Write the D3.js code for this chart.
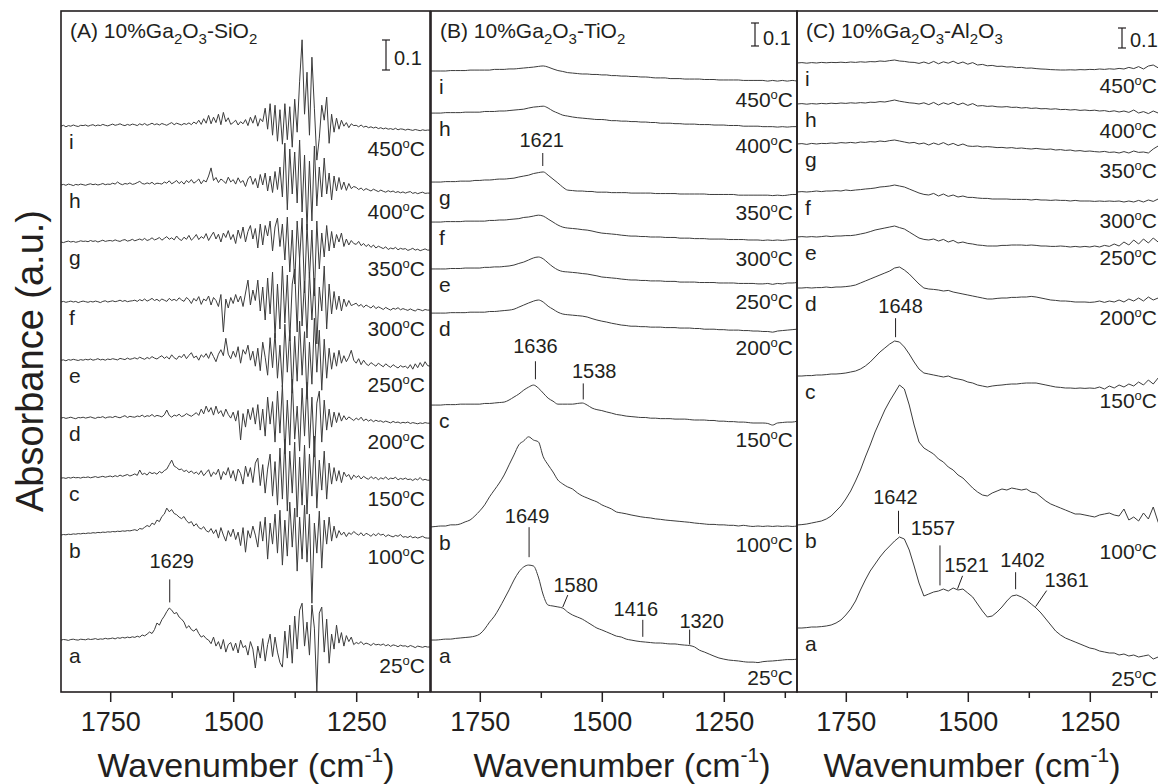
<!DOCTYPE html>
<html>
<head>
<meta charset="utf-8">
<script src="https://cdnjs.cloudflare.com/ajax/libs/d3/7.8.5/d3.min.js"></script>
<style>
  body { margin: 0; background: #fff; }
  text { font-family: "Liberation Sans", Arial, Helvetica, sans-serif; fill: #231f20; }
</style>
</head>
<body>
<div id="chart"></div>
<script>
// wavenumber range of every panel (cm-1), spectra sampled evenly from 1850 down to 1100
var wnMax = 1850, wnMin = 1100;
var letters = ["a", "b", "c", "d", "e", "f", "g", "h", "i"];
var temps = ["25", "100", "150", "200", "250", "300", "350", "400", "450"];
var xTicksMajor = [1750, 1500, 1250];
var xTicksMinor = [1625, 1375, 1125];

// values in mAU (0.1 a.u. = 100), each spectrum relative to its own offset
// (A) 10%Ga2O3-SiO2, 5 cm-1 steps
var offsetsA = [0, 350, 540, 740, 933, 1127, 1327, 1517, 1713];
var specA_a = [0,2,1,-1,2,3,1,0,3,2, 1,4,2,3,5,2,4,3,6,4, 5,7,4,8,6,9,7,10,8,11, 9,13,10,17,14,20,27,22,35,57,
  50,68,80,95,107,100,88,92,77,70, 60,40,48,35,30,38,22,10,15,5, 0,-12,10,-20,-5,-30,2,-40,-15,-8,
  -35,-10,-43,0,-25,-18,-50,-5,-30,-93, -20,-60,5,-70,-15,20,-55,10,-40,-75, -90,30,-60,50,-77,80,-30,100,123,-20,
  60,-50,117,40,-173,90,110,-40,70,-77, 20,-30,50,-10,25,-20,15,-5,10,-15, -8,-12,-5,-15,-10,-13,-18,-11,-16,-14,
  -17,-13,-19,-15,-21,-16,-18,-22,-17,-20, -19,-23,-18,-21,-25,-20,-22,-24,-21,-23, -23];
var specA_b = [0,2,1,3,2,4,3,5,4,6, 5,7,6,8,7,9,8,10,9,11, 10,12,11,13,12,14,13,15,14,16, 18,15,22,20,26,32,28,40,35,50,
  45,62,70,90,78,85,72,68,60,55, 62,48,40,45,30,38,25,20,28,15, 10,22,5,18,-10,25,0,-20,15,-5,
  20,-15,10,-35,25,-57,15,-10,30,0, -40,45,-20,60,-80,40,-30,70,-60,83, -100,50,-70,110,-40,90,-120,60,-80,100,
  -90,70,-227,40,-60,80,-110,50,-30,60, -20,30,-10,15,0,10,-5,8,2,12, 5,0,8,-3,6,2,-4,4,-2,6,
  0,3,-5,1,-3,-6,-1,-4,2,-7, -5,-8,-3,-9,-6,-10,-7,-4,-9,-10, -10];
var specA_c = [0,1,-1,2,0,3,1,2,0,3, 2,4,1,3,5,2,4,6,3,5, 7,4,8,5,10,6,9,12,7,10, 14,9,27,12,16,10,20,15,18,13,
  22,17,25,30,45,60,40,35,28,30, 22,26,18,24,15,20,12,25,8,18, 28,5,20,12,30,-5,22,10,35,0,
  25,-10,30,15,-20,40,5,35,-15,50, 67,-25,45,-50,30,80,-60,55,-90,100, -70,130,-110,90,-50,120,-130,70,-90,110,
  -120,80,-60,140,-100,60,-40,90,-70,50, -20,35,-10,25,-15,20,5,12,-5,10, 2,8,-3,6,0,-4,5,-2,3,-6,
  1,-3,4,-5,0,-2,3,-6,-1,-4, 0,-5,-3,-8,-2,-6,2,-7,-4,-7, -7];
var specA_d = [0,2,-1,1,3,0,-2,2,1,3, 0,2,4,1,-1,3,2,5,0,3, 4,2,6,3,1,5,8,2,6,4, 3,7,5,10,4,8,6,12,5,9,
  7,4,11,27,9,3,10,7,13,5, 8,15,10,6,12,18,9,30,14,40, 20,35,10,40,15,25,5,30,12,0,
  20,-10,25,-73,15,-30,30,-5,35,-20, 45,-40,30,-60,70,-20,55,-80,90,-50, 110,-120,60,-90,130,-70,40,-110,100,-60,
  120,-100,70,-130,50,90,-80,60,-40,30, -30,20,-15,18,-10,8,-6,4,-2,-8, 0,-6,3,-9,-3,-10,-5,-12,-7,-11,
  -9,-14,-10,-13,-16,-11,-15,-13,-17,-14, -16,-13,-18,-15,-17,-19,-16,-18,-15,-17, -17];
var specA_e = [0,1,-2,2,0,3,1,-1,2,0, 3,1,4,0,2,5,1,3,0,4, 2,5,3,1,6,4,2,7,3,5, 8,4,10,6,3,9,5,12,7,4,
  10,15,6,12,4,18,8,3,14,9, 20,5,16,25,8,14,0,18,10,22, 6,28,12,-5,20,35,15,73,20,5,
  30,10,45,-10,35,20,50,0,30,-20, 40,-35,60,10,-50,75,-25,90,-60,50, -90,120,-40,100,-110,80,-70,130,-50,95,
  -130,60,-80,140,-40,100,-100,70,-60,40, -30,25,-20,33,-10,15,-5,10,33,0, -10,5,-15,0,-12,-18,-8,-14,-20,-10,
  -16,-22,-12,-19,-24,-15,-21,-26,-18,-23, -20,-27,-15,-30,-12,-25,-8,-22,-5,-18, -20];
var specA_f = [0,2,-1,1,3,0,2,-2,1,3, 1,-1,2,0,3,1,-2,2,4,0, 2,4,1,3,6,2,5,1,3,4, 6,2,8,4,10,3,7,12,5,9,
  3,10,6,2,12,5,9,4,14,7, 2,15,8,-5,12,3,18,-8,10,4, 20,-10,15,5,-15,25,-100,10,-20,15,
  -5,25,0,20,-15,30,73,-10,40,5, 73,-30,50,-60,80,-40,100,-120,60,-90, 120,-70,90,-130,60,110,-100,140,-80,70,
  -120,100,-60,80,-140,50,-30,120,-90,60, -40,35,-25,20,-30,10,-15,5,-12,-8, -4,-14,-8,-18,-10,-15,-20,-12,-22,-16,
  -20,-25,-18,-23,-27,-21,-24,-19,-26,-22, -25,-28,-23,-27,-30,-24,-26,-29,-25,-27, -27];
var specA_g = [0,-2,1,3,0,2,-1,1,4,2, 3,1,5,2,4,0,3,6,2,4, 5,3,7,4,2,6,8,3,5,9, 4,7,10,6,12,5,8,14,7,10,
  15,6,12,18,9,14,7,20,10,5, 16,9,22,6,14,25,8,18,12,28, 5,20,33,10,26,0,30,15,38,8,
  25,-5,40,12,50,0,35,55,10,45, -20,60,-10,55,20,70,-30,50,80,-15, 60,-60,83,-100,40,-140,70,-60,80,-170,
  60,-120,40,-180,70,-90,30,-50,55,-30, 35,-20,25,0,30,-15,10,-10,5,-5, -8,2,-12,-5,-15,-8,-18,-10,-20,-14,
  -18,-22,-16,-25,-20,-23,-18,-26,-21,-24, -22,-28,-25,-21,-27,-24,-29,-26,-23,-27, -27];
var specA_h = [0,2,-1,3,1,-2,2,0,3,1, -1,2,4,1,3,0,2,5,1,3, 2,6,3,10,4,1,5,3,7,2, 4,8,12,5,3,7,4,9,2,6,
  5,3,10,6,14,4,9,15,5,12, 3,15,8,18,6,12,20,4,16,10, 30,57,15,25,8,20,14,5,26,10,
  18,3,24,8,15,-5,20,30,2,22, -10,35,0,40,-20,30,-25,45,-15,60, -40,140,-83,120,-30,110,-60,150,-90,100,
  -150,80,-120,130,-70,60,-40,90,-30,40, -50,30,-20,25,-15,10,-18,5,-12,-5, -8,-15,-10,-18,-12,-16,-20,-14,-18,-22,
  -17,-21,-24,-19,-23,-20,-25,-22,-26,-23, -27,-24,-22,-28,-25,-29,-26,-24,-28,-27, -27];
var specA_i = [0,3,-2,2,0,4,1,-1,3,2, 4,0,3,5,1,4,2,6,3,1, 4,7,3,5,8,4,2,6,3,7, 5,2,8,4,9,3,6,10,5,8,
  4,9,6,3,8,12,5,10,7,4, 9,6,11,5,14,8,20,6,25,10, 36,8,30,12,40,5,46,15,28,6,
  12,20,4,15,8,22,2,30,10,36, 0,25,15,60,-10,75,-30,70,-50,55, -60,75,-45,65,-70,90,-20,150,288,40,
  180,-30,230,60,-113,-40,70,20,97,-57, 40,-20,27,-10,20,0,12,-5,8,2, 3,-2,4,-3,0,-5,-2,-6,-3,-8,
  -5,-9,-6,-10,-8,-11,-7,-12,-9,-10, -13,-10,-12,-14,-11,-13,-15,-12,-14,-13, -13];

// (B) 10%Ga2O3-TiO2, 10 cm-1 steps
var offsetsB = [0, 492, 1022, 1422, 1614, 1818, 1992, 2292, 2475];
var specB_a = [0,0,2,4,4,7,9,11,13,17, 26,48,78,104,139,178,218,261,296,318, 326,322,274,196,152,148,144,139,122,109,
  100,91,78,65,52,44,35,26,17,13, 4,0,-4,-7,-9,-11,-13,-13,-15,-17, -17,-20,-22,-24,-30,-44,-52,-61,-70,-78,
  -83,-87,-89,-91,-94,-96,-96,-98,-94,-92, -91,-89,-87,-85,-85,-83];
var specB_b = [0,2,4,4,9,9,13,22,30,48, 70,96,131,161,191,226,270,313,357,374, 392,378,370,305,270,239,204,187,174,165,
  148,135,126,117,109,96,87,78,65,61, 57,52,48,44,41,39,35,33,30,28, 26,24,22,20,17,15,13,11,11,9,
  9,7,7,4,7,4,2,4,2,4, 2,4,2,4,2,4];
var specB_c = [0,0,0,2,2,2,4,4,4,4, 4,7,7,9,11,13,22,35,48,65, 78,87,74,52,30,17,4,4,4,4,
  7,9,0,-13,-20,-24,-30,-35,-41,-44, -48,-50,-52,-54,-54,-57,-57,-59,-59,-59, -61,-61,-61,-63,-65,-65,-65,-67,-67,-70,
  -70,-72,-72,-74,-74,-76,-78,-78,-78,-80, -87,-78,-76,-74,-74,-70];
var specB_d = [0,0,0,0,2,2,2,2,4,4, 4,4,7,7,9,11,13,17,26,35, 44,52,57,48,30,17,4,-4,-7,-9,
  -11,-13,-17,-24,-30,-35,-39,-44,-48,-52, -54,-57,-57,-59,-59,-61,-61,-61,-63,-63, -63,-65,-65,-65,-67,-67,-70,-70,-70,-72,
  -72,-74,-74,-74,-76,-76,-78,-78,-80,-80, -83,-78,-76,-74,-72,-70];
var specB_e = [0,0,0,0,2,2,2,4,4,4, 4,7,7,9,9,11,13,17,24,30, 39,48,52,44,26,9,-4,-11,-13,-15,
  -17,-20,-22,-26,-30,-35,-37,-39,-41,-44, -46,-48,-48,-50,-50,-52,-52,-52,-54,-54, -54,-57,-57,-57,-57,-59,-59,-59,-59,-61,
  -61,-61,-61,-63,-63,-63,-63,-65,-65,-63, -67,-63,-65,-61,-61,-59];
var specB_f = [0,0,0,2,2,2,2,4,4,4, 4,4,7,7,9,9,11,13,15,20, 22,26,30,26,13,0,-13,-22,-26,-28,
  -30,-33,-35,-39,-44,-48,-50,-52,-54,-57, -59,-61,-61,-63,-63,-65,-65,-65,-67,-67, -67,-70,-70,-70,-72,-72,-72,-74,-74,-74,
  -74,-76,-76,-76,-76,-78,-78,-78,-80,-78, -80,-78,-80,-78,-76,-76];
var specB_g = [0,0,0,2,2,2,4,4,4,7, 7,9,9,11,13,13,15,17,22,26, 30,37,41,44,30,13,-4,-22,-35,-37,
  -39,-39,-41,-41,-44,-44,-44,-46,-46,-46, -46,-48,-48,-48,-48,-48,-50,-50,-50,-50, -50,-52,-52,-52,-52,-52,-52,-54,-54,-54,
  -54,-54,-54,-57,-57,-57,-57,-57,-57,-57, -59,-57,-59,-57,-54,-54];
var specB_h = [0,0,0,2,2,2,2,4,4,4, 4,7,7,7,9,9,11,13,15,17, 22,26,28,30,22,9,0,-9,-13,-17,
  -20,-22,-24,-26,-28,-28,-30,-33,-33,-35, -35,-37,-37,-39,-39,-41,-41,-44,-44,-44, -46,-46,-48,-48,-48,-50,-50,-50,-52,-52,
  -52,-54,-54,-54,-57,-57,-57,-57,-59,-59, -59,-61,-59,-61,-59,-59];
var specB_i = [0,0,0,0,2,2,2,2,4,4, 4,4,4,7,7,7,9,9,11,13, 15,17,20,22,17,9,2,-2,-7,-9,
  -11,-13,-13,-15,-15,-17,-17,-20,-20,-22, -22,-24,-24,-26,-26,-28,-30,-30,-30,-33, -33,-33,-35,-35,-35,-35,-37,-37,-37,-39,
  -39,-39,-39,-39,-41,-41,-41,-41,-41,-44, -41,-44,-41,-44,-41,-44];

// (C) 10%Ga2O3-Al2O3, 10 cm-1 steps
var offsetsC = [0, 515, 1260, 1700, 1955, 2180, 2420, 2620, 2825];
var specC_a = [0,0,2,5,5,7,10,15,25,40, 65,95,135,190,240,285,320,355,385,410, 435,455,445,390,310,225,160,170,180,185,
  195,185,200,190,195,175,155,120,85,55, 60,80,105,135,160,165,155,140,120,100, 75,45,15,-15,-35,-50,-60,-70,-80,-90,
  -100,-105,-115,-120,-125,-125,-135,-130,-140,-135, -145,-140,-135,-155,-145,-160];
var specC_b = [0,2,5,10,15,20,30,45,70,95, 130,170,220,275,340,400,465,520,575,620, 660,700,680,600,500,415,385,370,355,330,
  315,290,275,250,235,210,185,165,150,145, 160,170,180,175,185,180,175,180,165,160, 140,120,105,95,85,75,65,55,55,50,
  45,40,50,55,60,50,45,80,25,40, 20,60,30,90,15,-40];
var specC_c = [0,0,2,2,5,5,7,10,10,12, 15,20,25,35,50,70,95,120,140,160, 175,170,145,110,70,35,15,10,5,0,
  -5,0,-10,-15,-20,-30,-35,-45,-50,-55, -50,-47,-45,-42,-40,-40,-37,-35,-35,-35, -40,-45,-50,-55,-57,-60,-60,-62,-60,-62,
  -60,-62,-55,-65,-50,-60,-45,-55,-40,-50, -30,-45,-20,-40,-10,-30];
var specC_d = [0,0,2,0,2,2,5,2,5,5, 7,10,15,25,35,45,55,65,75,85, 100,105,90,70,45,20,0,-5,-7,-10,
  -15,-12,-20,-25,-30,-35,-40,-45,-50,-55, -55,-52,-50,-50,-47,-47,-45,-45,-42,-45, -50,-55,-60,-62,-65,-65,-67,-70,-70,-70,
  -72,-70,-65,-72,-65,-70,-60,-70,-55,-65, -50,-65,-45,-60,-50,-55];
var specC_e = [0,2,0,2,0,2,5,2,5,5, 7,7,10,15,20,27,35,40,45,50, 55,47,40,25,10,-5,-12,-15,-10,-20,
  -12,-25,-17,-30,-25,-32,-35,-40,-42,-45, -45,-45,-42,-42,-40,-40,-40,-42,-40,-42, -45,-45,-47,-47,-45,-47,-50,-47,-50,-47,
  -50,-45,-50,-42,-47,-35,-45,-25,-40,-15, -35,-10,-30,-5,-25,-10];
var specC_f = [0,2,0,2,5,2,5,5,7,5, 10,7,10,12,15,17,20,25,27,30, 35,30,25,15,5,-5,-12,-15,-7,-20,
  -10,-22,-15,-25,-20,-27,-27,-30,-32,-32, -35,-35,-35,-35,-37,-37,-37,-37,-40,-37, -40,-40,-42,-40,-42,-42,-45,-42,-45,-45,
  -45,-47,-45,-47,-45,-47,-45,-50,-45,-50, -42,-50,-40,-47,-35,-50];
var specC_g = [0,2,-2,3,0,3,2,5,3,7, 5,8,5,10,8,12,10,15,12,17, 20,15,10,5,8,0,5,-5,5,-3,
  7,-5,3,-8,0,-10,-12,-10,-15,-13, -15,-18,-17,-20,-18,-22,-20,-23,-25,-22, -25,-27,-25,-30,-28,-32,-30,-35,-33,-37,
  -35,-38,-40,-37,-42,-40,-45,-38,-45,-35, -42,-40,-45,-25,-10,-40];
var specC_h = [0,2,-1,2,0,3,1,4,2,5, 3,6,4,7,5,9,8,12,10,15, 20,14,10,6,4,0,6,-3,8,-5,
  6,-2,8,-4,5,-7,2,-10,-8,-12, -10,-14,-15,-13,-17,-16,-20,-18,-22,-20, -24,-23,-26,-24,-28,-27,-30,-28,-32,-30,
  -33,-31,-35,-33,-38,-34,-40,-35,-42,-30, -45,-38,-48,-35,-45,-42];
var specC_i = [0,2,-1,2,0,3,1,3,2,4, 2,5,3,6,4,7,6,10,8,12, 15,10,8,4,3,-2,5,-3,8,-4,
  6,-1,9,-3,5,-6,2,-10,-7,-14, -12,-17,-16,-20,-19,-23,-22,-26,-25,-28, -30,-31,-33,-34,-35,-35,-34,-35,-33,-34,
  -32,-33,-30,-32,-29,-31,-27,-30,-22,-28, -18,-30,-15,-10,-24,-20];

// peak assignments: spectrum index, wavenumber
var annA = [
  {s: 0, wn: 1629, label: "1629", gap: 6, len: 23, slant: 0, dx: 2, lg: 11}
];
var annB = [
  {s: 0, wn: 1649, label: "1649", gap: 8, len: 30, slant: 0, dx: -2, lg: 4},
  {s: 0, wn: 1580, label: "1580", gap: 1, len: 12, slant: 5, dx: 8, lg: 3},
  {s: 0, wn: 1416, label: "1416", gap: 5, len: 17, slant: 0, dx: -7, lg: 4},
  {s: 0, wn: 1320, label: "1320", gap: 1, len: 15, slant: 0, dx: 12, lg: 2},
  {s: 2, wn: 1636, label: "1636", gap: 7, len: 18, slant: 0, dx: 0, lg: 8},
  {s: 2, wn: 1538, label: "1538", gap: 4, len: 16, slant: 0, dx: 11, lg: 5},
  {s: 6, wn: 1621, label: "1621", gap: 6, len: 13, slant: 0, dx: -1, lg: 6}
];
var annC = [
  {s: 2, wn: 1648, label: "1648", gap: 4, len: 19, slant: 0, dx: 5, lg: 5},
  {s: 0, wn: 1642, label: "1642", gap: 4, len: 23, slant: 0, dx: -3, lg: 7},
  {s: 0, wn: 1557, label: "1557", gap: 5, len: 40, slant: 0, dx: -7, lg: 10},
  {s: 0, wn: 1521, label: "1521", gap: 1, len: 13, slant: 5, dx: 4, lg: 4},
  {s: 0, wn: 1402, label: "1402", gap: 6, len: 17, slant: 0, dx: 7, lg: 5},
  {s: 0, wn: 1361, label: "1361", gap: 1, len: 16, slant: 11, dx: 20, lg: 4}
];

var ink = "#231f20";
var W = 1158, H = 784;
var plotTop = 11, plotBottom = 692;

var panels = [
  {id: "A", left: 61, right: 430, yDomain: [-173, 2097],
   spectra: [specA_a, specA_b, specA_c, specA_d, specA_e, specA_f, specA_g, specA_h, specA_i],
   offsets: offsetsA, curve: d3.curveLinear, ann: annA,
   title: [["(A) 10%Ga", 0], ["2", 1], ["O", 0], ["3", 1], ["-SiO", 0], ["2", 1]],
   bar: {dx: 44, y: 40, textDy: -5}, titleX: 246, tempDx: 5},
  {id: "B", left: 431, right: 797, yDomain: [-226, 2736],
   spectra: [specB_a, specB_b, specB_c, specB_d, specB_e, specB_f, specB_g, specB_h, specB_i],
   offsets: offsetsB, curve: d3.curveMonotoneX, ann: annB,
   title: [["(B) 10%Ga", 0], ["2", 1], ["O", 0], ["3", 1], ["-TiO", 0], ["2", 1]],
   bar: {dx: 42, y: 23, textDy: -1}, titleX: 622, tempDx: 4},
  {id: "C", left: 797, right: 1163, yDomain: [-320, 3085],
   spectra: [specC_a, specC_b, specC_c, specC_d, specC_e, specC_f, specC_g, specC_h, specC_i],
   offsets: offsetsC, curve: d3.curveLinear, ann: annC,
   title: [["(C) 10%Ga", 0], ["2", 1], ["O", 0], ["3", 1], ["-Al", 0], ["2", 1], ["O", 0], ["3", 1]],
   bar: {dx: 41, y: 28, textDy: -1}, titleX: 972, tempDx: 6}
];

var svg = d3.select("#chart").append("svg")
  .attr("width", W)
  .attr("height", H);

function wnAt(k, n) {
  return wnMax - k * (wnMax - wnMin) / (n - 1);
}

function valueAt(vals, wn) {
  var n = vals.length;
  var pos = (wnMax - wn) / (wnMax - wnMin) * (n - 1);
  var k = Math.floor(pos), f = pos - k;
  if (k >= n - 1) return vals[n - 1];
  return vals[k] * (1 - f) + vals[k + 1] * f;
}

panels.forEach(function(p) {
  var x = d3.scaleLinear().domain([wnMax, wnMin]).range([p.left, p.right]);
  var y = d3.scaleLinear().domain(p.yDomain).range([plotBottom, plotTop]);

  svg.append("clipPath").attr("id", "clip" + p.id)
    .append("rect")
    .attr("x", p.left).attr("y", plotTop)
    .attr("width", p.right - p.left).attr("height", plotBottom - plotTop);

  var line = d3.line()
    .x(function(d) { return x(d[0]); })
    .y(function(d) { return y(d[1]); })
    .curve(p.curve);

  var g = svg.append("g").attr("clip-path", "url(#clip" + p.id + ")");

  p.spectra.forEach(function(vals, i) {
    var pts = vals.map(function(v, k) { return [wnAt(k, vals.length), p.offsets[i] + v]; });
    g.append("path")
      .attr("d", line(pts))
      .attr("fill", "none")
      .attr("stroke", "#3c3c3c")
      .attr("stroke-width", 1)
      .attr("stroke-linejoin", "round");
  });

  // sample letters on the left, temperatures on the right
  p.spectra.forEach(function(vals, i) {
    svg.append("text")
      .attr("x", p.left + 8)
      .attr("y", y(p.offsets[i] + vals[0]) + 23)
      .attr("font-size", 21)
      .text(letters[i]);

    var t = svg.append("text")
      .attr("x", p.right - p.tempDx)
      .attr("y", y(p.offsets[i] + vals[vals.length - 1]) + 26)
      .attr("text-anchor", "end")
      .attr("font-size", 21);
    t.append("tspan").text(temps[i]);
    t.append("tspan").attr("font-size", 13).attr("dy", -8).text("o");
    t.append("tspan").attr("dy", 8).text("C");
  });

  // peak markers
  p.ann.forEach(function(a) {
    var vals = p.spectra[a.s];
    var x0 = x(a.wn);
    var y0 = y(p.offsets[a.s] + valueAt(vals, a.wn)) - a.gap;
    var x1 = x0 + a.slant, y1 = y0 - a.len;
    svg.append("line")
      .attr("x1", x0).attr("y1", y0)
      .attr("x2", x1).attr("y2", y1)
      .attr("stroke", ink).attr("stroke-width", 1);
    svg.append("text")
      .attr("x", x1 + a.dx)
      .attr("y", y1 - a.lg)
      .attr("text-anchor", "middle")
      .attr("font-size", 20)
      .text(a.label);
  });

  // frame
  svg.append("rect")
    .attr("x", p.left).attr("y", plotTop)
    .attr("width", p.right - p.left).attr("height", plotBottom - plotTop)
    .attr("fill", "none")
    .attr("stroke", ink)
    .attr("stroke-width", 1.6);

  // x axis
  var axMajor = d3.axisBottom(x).tickValues(xTicksMajor).tickSize(10).tickPadding(10)
    .tickSizeOuter(0).tickFormat(d3.format("d"));
  var axMinor = d3.axisBottom(x).tickValues(xTicksMinor).tickSize(6).tickFormat("").tickSizeOuter(0);
  var gMaj = svg.append("g").attr("transform", "translate(0," + plotBottom + ")").call(axMajor);
  var gMin = svg.append("g").attr("transform", "translate(0," + plotBottom + ")").call(axMinor);
  [gMaj, gMin].forEach(function(ga) {
    ga.select(".domain").remove();
    ga.selectAll("line").attr("stroke", ink).attr("stroke-width", 1.5);
    ga.attr("font-family", null).attr("font-size", null);
  });
  gMaj.selectAll("text").attr("font-size", 27).attr("fill", ink);

  // panel title with subscripts
  var tt = svg.append("text").attr("x", p.left + 9).attr("y", 38).attr("font-size", 21);
  var shifted = false;
  p.title.forEach(function(part) {
    var ts = tt.append("tspan").text(part[0]);
    if (part[1] && !shifted) { ts.attr("dy", 6).attr("font-size", 15); shifted = true; }
    else if (part[1]) { ts.attr("font-size", 15); }
    else if (shifted) { ts.attr("dy", -6); shifted = false; }
  });

  // 0.1 a.u. scale bar
  var bx = p.right - p.bar.dx;
  var by0 = p.bar.y, by1 = p.bar.y + (y(0) - y(100));
  svg.append("line").attr("x1", bx).attr("x2", bx).attr("y1", by0).attr("y2", by1)
    .attr("stroke", ink).attr("stroke-width", 1.2);
  [by0, by1].forEach(function(yy) {
    svg.append("line").attr("x1", bx - 4).attr("x2", bx + 4).attr("y1", yy).attr("y2", yy)
      .attr("stroke", ink).attr("stroke-width", 1.2);
  });
  svg.append("text").attr("x", bx + 8).attr("y", by1 + p.bar.textDy)
    .attr("font-size", 20).text("0.1");

  // x axis title
  var xt = svg.append("text").attr("x", p.titleX).attr("y", 777)
    .attr("text-anchor", "middle").attr("font-size", 34);
  xt.append("tspan").text("Wavenumber (cm");
  xt.append("tspan").attr("font-size", 21).attr("dy", -15).text("-1");
  xt.append("tspan").attr("dy", 15).text(")");
});

svg.append("text")
  .attr("transform", "translate(43,361) rotate(-90)")
  .attr("text-anchor", "middle")
  .attr("font-size", 38)
  .text("Absorbance (a.u.)");
</script>
</body>
</html>
